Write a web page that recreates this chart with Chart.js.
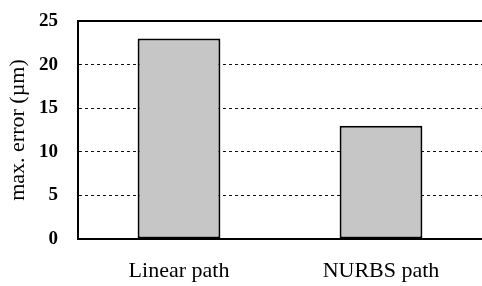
<!DOCTYPE html>
<html>
<head>
<meta charset="utf-8">
<script src="https://cdn.jsdelivr.net/npm/chart.js@4"></script>
<style>
  html, body { margin: 0; padding: 0; background: #fff; }
  #wrap { width: 482px; height: 286px; }
</style>
</head>
<body>
<div id="wrap"><canvas id="errChart" width="482" height="286"></canvas></div>
<script>
const categories = ['Linear path', 'NURBS path'];
const maxError = [23, 13];
const yTicks = [0, 5, 10, 15, 20, 25];

// solid frame line along the top of the plot area
const topLine = {
    id: 'topLine',
    afterDraw(chart) {
        const {ctx, chartArea} = chart;
        ctx.save();
        ctx.strokeStyle = '#000';
        ctx.lineWidth = 2;
        ctx.beginPath();
        ctx.moveTo(chartArea.left, chartArea.top);
        ctx.lineTo(chartArea.right, chartArea.top);
        ctx.stroke();
        ctx.restore();
    }
};

const ctx = document.getElementById('errChart').getContext('2d');
new Chart(ctx, {
    type: 'bar',
    data: {
        labels: categories,
        datasets: [{
            data: maxError,
            backgroundColor: '#c6c6c6',
            borderColor: '#000',
            borderWidth: 2,
            borderSkipped: false,
            categoryPercentage: 1,
            barPercentage: 0.41
        }]
    },
    options: {
        responsive: false,
        animation: false,
        layout: { padding: { top: 21, right: 0, left: 0, bottom: 0 } },
        plugins: { legend: { display: false }, tooltip: { enabled: false } },
        scales: {
            x: {
                grid: { display: false, drawTicks: false },
                border: { color: '#000', width: 2 },
                ticks: {
                    color: '#000',
                    padding: 19,
                    font: { family: 'Liberation Serif', size: 22 }
                },
                afterFit: scale => { scale.height = 47; }
            },
            y: {
                min: 0,
                max: 25,
                afterBuildTicks: scale => { scale.ticks = yTicks.map(v => ({value: v})); },
                grid: {
                    // invisible tick marks keep the labels away from the axis
                    drawTicks: true,
                    tickLength: 20,
                    tickColor: 'rgba(0,0,0,0)',
                    color: c => (c.tick.value === 0 || c.tick.value === 25) ? 'rgba(0,0,0,0)' : '#111',
                    lineWidth: 1
                },
                border: { color: '#000', width: 2, dash: [3, 3] },
                ticks: {
                    color: '#000',
                    padding: 0,
                    font: { family: 'Liberation Serif', size: 19, weight: 'bold' }
                },
                title: {
                    display: true,
                    text: 'max. error (µm)',
                    color: '#000',
                    padding: { top: 5, bottom: 0 },
                    font: { family: 'Liberation Serif', size: 22 }
                },
                afterFit: scale => { scale.width = 78; }
            }
        }
    },
    plugins: [topLine]
});
</script>
</body>
</html>
